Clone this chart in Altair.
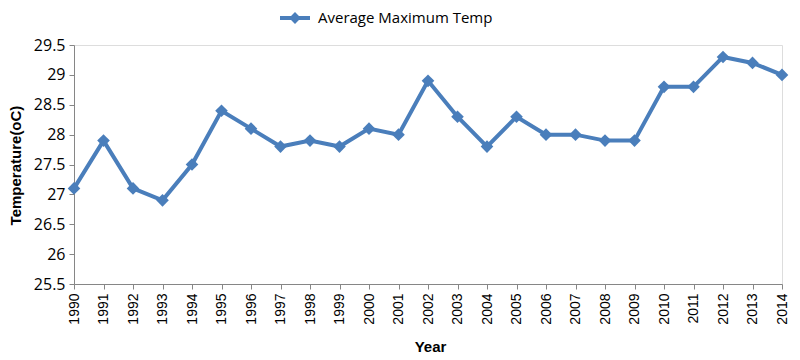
import altair as alt
import pandas as pd

years = list(range(1990, 2015))
temps = [27.1, 27.9, 27.1, 26.9, 27.5, 28.4, 28.1, 27.8, 27.9, 27.8,
         28.1, 28.0, 28.9, 28.3, 27.8, 28.3, 28.0, 28.0, 27.9, 27.9,
         28.8, 28.8, 29.3, 29.2, 29.0]
series_name = "Average Maximum Temp"
y_ticks = [25.5, 26, 26.5, 27, 27.5, 28, 28.5, 29, 29.5]

df = pd.DataFrame({"Year": years, "Temp": temps})
legend_df = pd.DataFrame({"label": [series_name]})

blue = "#4A7EBB"
axis_gray = "#868686"

x = alt.X("Year:Q",
          scale=alt.Scale(domain=[1990, 2014], nice=False, zero=False),
          axis=alt.Axis(values=years, format="d", labelAngle=-90, labelAlign="right",
                        labelBaseline="middle", labelFont="Liberation Sans", labelFontSize=14,
                        labelColor="#000000", labelPadding=4,
                        title="Year", titleFont="Liberation Sans", titleFontSize=15,
                        titleFontWeight="bold", titleX=356, titleY=62, titleBaseline="middle",
                        domainColor=axis_gray, tickColor=axis_gray, tickSize=5,
                        grid=False, labelOverlap=False))
y = alt.Y("Temp:Q",
          scale=alt.Scale(domain=[25.5, 29.5], nice=False, zero=False),
          axis=alt.Axis(values=y_ticks, format="~g", labelFont="Open Sans", labelFontSize=16,
                        labelColor="#000000", labelPadding=4,
                        title="Temperature(oC)", titleFont="Liberation Sans", titleFontSize=15,
                        titleFontWeight="bold", titleX=-59, titleY=120, titleBaseline="middle",
                        domainColor=axis_gray, tickColor=axis_gray, tickSize=5,
                        grid=False))

line = alt.Chart(df).mark_line(strokeWidth=4, color=blue).encode(x=x, y=y)
pts = alt.Chart(df).mark_point(shape="diamond", filled=True, size=160, opacity=1, color=blue).encode(x=x, y=y)

# legend drawn above the plot
leg_y = -27
leg_line = alt.Chart(legend_df).mark_rule(strokeWidth=4, color=blue).encode(
    x=alt.value(206), x2=alt.value(236), y=alt.value(leg_y))
leg_pt = alt.Chart(legend_df).mark_point(shape="diamond", filled=True, size=140, opacity=1, color=blue).encode(
    x=alt.value(221), y=alt.value(leg_y))
leg_txt = alt.Chart(legend_df).mark_text(align="left", baseline="middle", font="Open Sans",
                                         fontSize=15, color="#000000").encode(
    x=alt.value(244), y=alt.value(leg_y), text="label:N")

chart = (line + pts + leg_line + leg_pt + leg_txt).properties(
    width=708, height=239,
    autosize=alt.AutoSizeParams(type="none"),
    padding={"left": 66, "top": 37, "right": 10, "bottom": 72},
).configure_view(stroke=None).configure(background="white")

chart.save("out.html", embed_options={"renderer": "svg", "actions": False})
